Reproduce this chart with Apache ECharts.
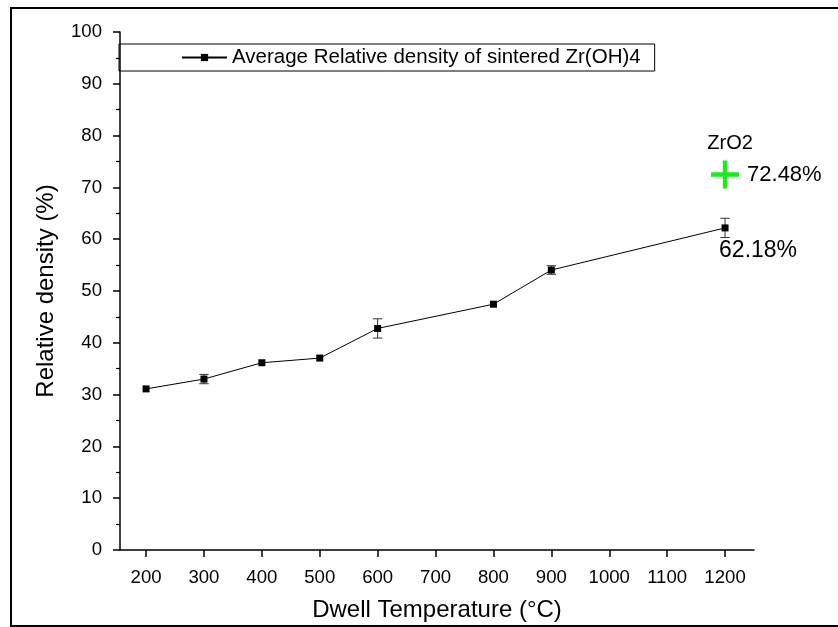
<!DOCTYPE html>
<html>
<head>
<meta charset="utf-8">
<title>Relative density vs dwell temperature</title>
<script src="https://cdn.jsdelivr.net/npm/echarts@6/dist/echarts.min.js"></script>
<style>
  html, body { margin: 0; padding: 0; background: #fff; }
  #chart { width: 838px; height: 627px; }
</style>
</head>
<body>
<div id="chart"></div>
<script>
// Dwell temperatures (°C) and average relative density (%) of sintered Zr(OH)4
const temperatures = [200, 300, 400, 500, 600, 800, 900, 1200];
const density = [31.1, 33.0, 36.15, 37.05, 42.77, 47.45, 54.05, 62.18];
const densityError = [0, 0.9, 0, 0, 1.86, 0, 0.83, 1.86];

// Reference ZrO2 density at 1200 °C
const zro2Temperature = [1200];
const zro2Density = [72.48];

// Axis tick values
const xTicks = [200, 300, 400, 500, 600, 700, 800, 900, 1000, 1100, 1200];
const yTicks = [0, 10, 20, 30, 40, 50, 60, 70, 80, 90, 100];

const FONT = '"Liberation Sans", Arial, sans-serif';
const mainName = 'Average Relative density of sintered Zr(OH)4';

const lineData = temperatures.map((t, i) => {
  const item = { value: [t, density[i]] };
  if (i === temperatures.length - 1) {
    item.label = {
      show: true,
      position: 'bottom',
      distance: 8,
      offset: [33, 0],
      formatter: p => p.value[1].toFixed(2) + '%',
      fontFamily: FONT,
      fontSize: 23,
      color: '#000'
    };
  }
  return item;
});

const errorData = temperatures
  .map((t, i) => [t, density[i] - densityError[i], density[i] + densityError[i], densityError[i]])
  .filter(d => d[3] > 0);

const zro2Data = zro2Temperature.map((t, i) => [t, zro2Density[i]]);

const plusPath = 'path://M11.75,0h4.5v11.75h11.75v4.5h-11.75v11.75h-4.5v-11.75h-11.75v-4.5h11.75z';

const chart = echarts.init(document.getElementById('chart'), null, { renderer: 'canvas' });

chart.setOption({
  animation: false,
  backgroundColor: '#fff',
  textStyle: { fontFamily: FONT, color: '#000' },
  graphic: [{
    type: 'rect',
    z: -1,
    shape: { x: 11, y: 8, width: 900, height: 618 },
    style: { fill: 'none', stroke: '#000', lineWidth: 2 },
    silent: true
  }],
  grid: { left: 120, right: 84, top: 32, bottom: 76, containLabel: false },
  legend: {
    data: [mainName],
    left: 119,
    top: 44,
    orient: 'horizontal',
    padding: [3, 14, 3, 62],
    borderColor: '#000',
    borderWidth: 1,
    itemWidth: 45,
    itemHeight: 9,
    textStyle: { fontFamily: FONT, fontSize: 20.5, color: '#000' },
    selectedMode: false
  },
  xAxis: {
    type: 'value',
    min: 155,
    max: 1250,
    name: 'Dwell Temperature (°C)',
    nameLocation: 'middle',
    nameGap: 48,
    nameTextStyle: { fontFamily: FONT, fontSize: 24, color: '#000' },
    axisLine: { show: true, onZero: false, lineStyle: { color: '#000', width: 1.5 } },
    axisTick: { show: true, inside: false, length: 7, customValues: xTicks, lineStyle: { color: '#000', width: 1.5 } },
    axisLabel: {
      customValues: xTicks,
      margin: 18,
      formatter: v => String(v),
      fontFamily: FONT,
      fontSize: 18.6,
      color: '#000'
    },
    splitLine: { show: false }
  },
  yAxis: {
    type: 'value',
    min: 0,
    max: 100,
    interval: 10,
    name: 'Relative density (%)',
    nameLocation: 'middle',
    nameGap: 62,
    nameTextStyle: { fontFamily: FONT, fontSize: 24, color: '#000' },
    axisLine: { show: true, onZero: false, lineStyle: { color: '#000', width: 1.5 } },
    axisTick: { show: true, inside: false, length: 7, customValues: yTicks, lineStyle: { color: '#000', width: 1.5 } },
    minorTick: { show: true, splitNumber: 2, length: 4, lineStyle: { color: '#000', width: 1.2 } },
    axisLabel: {
      customValues: yTicks,
      margin: 18,
      formatter: v => String(v),
      fontFamily: FONT,
      fontSize: 18.6,
      color: '#000'
    },
    splitLine: { show: false }
  },
  series: [
    {
      name: mainName,
      type: 'line',
      data: lineData,
      symbol: 'rect',
      symbolSize: 7,
      itemStyle: { color: '#000' },
      lineStyle: { color: '#000', width: 1 },
      z: 3
    },
    {
      name: 'error',
      type: 'custom',
      data: errorData,
      z: 2,
      renderItem: (params, api) => {
        const x = api.value(0);
        const low = api.coord([x, api.value(1)]);
        const high = api.coord([x, api.value(2)]);
        const half = 4.7;
        const style = { stroke: '#333', lineWidth: 1 };
        return {
          type: 'group',
          children: [
            { type: 'line', shape: { x1: low[0], y1: low[1], x2: high[0], y2: high[1] }, style },
            { type: 'line', shape: { x1: low[0] - half, y1: low[1], x2: low[0] + half, y2: low[1] }, style },
            { type: 'line', shape: { x1: high[0] - half, y1: high[1], x2: high[0] + half, y2: high[1] }, style }
          ]
        };
      }
    },
    {
      name: 'ZrO2',
      type: 'scatter',
      data: zro2Data,
      symbol: plusPath,
      symbolSize: 28,
      itemStyle: { color: '#1ee81e', opacity: 1 },
      label: {
        show: true,
        position: 'right',
        distance: 8,
        formatter: p => p.value[1].toFixed(2) + '%',
        fontFamily: FONT,
        fontSize: 22,
        color: '#000'
      },
      z: 4
    },
    {
      name: 'ZrO2',
      type: 'scatter',
      data: zro2Data,
      symbol: 'circle',
      symbolSize: 28,
      itemStyle: { color: 'rgba(0,0,0,0)', opacity: 1 },
      label: {
        show: true,
        position: 'top',
        distance: 7,
        offset: [5, 0],
        formatter: '{a}',
        fontFamily: FONT,
        fontSize: 20,
        color: '#000'
      },
      z: 4
    }
  ]
});
</script>
</body>
</html>
